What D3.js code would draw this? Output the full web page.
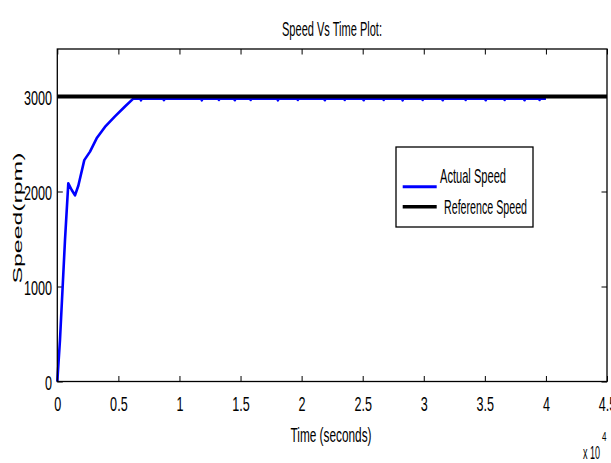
<!DOCTYPE html>
<html>
<head>
<meta charset="utf-8">
<script src="https://cdn.jsdelivr.net/npm/d3@7"></script>
<style>
  body { margin: 0; background: #fff; }
  text { font-family: "Liberation Sans", Arial, sans-serif; fill: #000; }
</style>
</head>
<body>
<div class="chart"></div>
<script>
// actual speed (rpm) vs time (s)
const actualTime = [0, 220, 630, 900, 1180, 1450, 1720, 2210, 2680, 3220, 3900, 4720, 5540, 6220, 6600,
  6790, 6850, 6910, 8670, 8730, 8790, 11770, 11830, 11890, 13170, 13230, 13290,
  14470, 14530, 14590, 15770, 15830, 15890, 18000, 18060, 18120, 19630, 19690, 19750,
  21840, 21900, 21960, 23470, 23530, 23590, 25020, 25080, 25140, 26660, 26720, 26780,
  28210, 28270, 28330, 29850, 29910, 29970, 31490, 31550, 31610, 33370, 33430, 33490,
  35010, 35070, 35130, 36560, 36620, 36680, 38190, 38250, 38310, 39420, 39480, 39540, 40000];
const actualSpeed = [0, 437, 1489, 2086, 2016, 1960, 2060, 2330, 2420, 2560, 2680, 2790, 2895, 2978, 2978,
  2978, 2960, 2978, 2978, 2962, 2978, 2978, 2960, 2978, 2978, 2963, 2978,
  2978, 2961, 2978, 2978, 2963, 2978, 2978, 2960, 2978, 2978, 2963, 2978,
  2978, 2961, 2978, 2978, 2963, 2978, 2978, 2961, 2978, 2978, 2963, 2978,
  2978, 2960, 2978, 2978, 2963, 2978, 2978, 2961, 2978, 2978, 2963, 2978,
  2978, 2961, 2978, 2978, 2963, 2978, 2978, 2961, 2978, 2978, 2963, 2978, 2978];
const refTime = [0, 45000];
const refSpeed = [3000, 3000];

const xTicks = [0, 5000, 10000, 15000, 20000, 25000, 30000, 35000, 40000, 45000];
const yTicks = [0, 1000, 2000, 3000];
const seriesNames = ["Actual Speed", "Reference Speed"];

const plotLeft = 57.3, plotRight = 607, plotTop = 49, plotBottom = 381.5;

const svg = d3.select(".chart")
  .append("svg")
    .attr("width", 611)
    .attr("height", 463);

const x = d3.scaleLinear().domain([0, 45000]).range([plotLeft, plotRight]);
const y = d3.scaleLinear().domain([0, 3500]).range([plotBottom, plotTop]);

// squeeze a text horizontally, the figure was stretched vertically
const condense = (sel, k) => sel.each(function () {
  const w = this.getComputedTextLength();
  d3.select(this).attr("textLength", w * k).attr("lengthAdjust", "spacingAndGlyphs");
});

//axes, ticks inside like matlab
const xAxis = svg.append("g")
  .attr("transform", `translate(0,${plotBottom})`)
  .call(d3.axisBottom(x).tickValues(xTicks).tickSizeInner(-5.5).tickSizeOuter(0)
    .tickFormat(d => d / 10000));
xAxis.selectAll(".tick text")
  .attr("y", 29.5).attr("dy", 0)
  .style("font-size", "21px").style("font-family", "Liberation Sans");
svg.append("g")
  .attr("transform", `translate(0,${plotTop})`)
  .call(d3.axisTop(x).tickValues(xTicks).tickSizeInner(-5.5).tickSizeOuter(0).tickFormat(""));

const yAxis = svg.append("g")
  .attr("transform", `translate(${plotLeft},0)`)
  .call(d3.axisLeft(y).tickValues(yTicks).tickSizeInner(-5.5).tickSizeOuter(0).tickPadding(5.3)
    .tickFormat(d3.format("d")));
yAxis.selectAll(".tick text")
  .attr("dy", "0.36em")
  .style("font-size", "21px").style("font-family", "Liberation Sans");
svg.append("g")
  .attr("transform", `translate(${plotRight},0)`)
  .call(d3.axisRight(y).tickValues(yTicks).tickSizeInner(-5.5).tickSizeOuter(0).tickFormat(""));

svg.selectAll(".domain").remove();
svg.selectAll(".tick line").attr("stroke", "#000");

//lines
const line = d3.line().x(d => x(d[0])).y(d => y(d[1]));
svg.append("path")
  .attr("d", line(d3.zip(actualTime, actualSpeed)))
  .attr("fill", "none")
  .attr("stroke", "#0000ff")
  .attr("stroke-width", 2.6)
  .attr("stroke-linejoin", "round");
svg.append("path")
  .attr("d", line(d3.zip(refTime, refSpeed)))
  .attr("fill", "none")
  .attr("stroke", "#000")
  .attr("stroke-width", 4);

//plot box
svg.append("rect")
  .attr("x", plotLeft).attr("y", plotTop)
  .attr("width", plotRight - plotLeft).attr("height", plotBottom - plotTop)
  .attr("fill", "none").attr("stroke", "#000").attr("stroke-width", 1.3);

//title and labels
svg.append("text")
  .attr("x", 332).attr("y", 36)
  .attr("text-anchor", "middle")
  .style("font-size", "20px")
  .attr("textLength", 100).attr("lengthAdjust", "spacingAndGlyphs")
  .text("Speed Vs Time Plot:");
svg.append("text")
  .attr("x", 331).attr("y", 442)
  .attr("text-anchor", "middle")
  .style("font-size", "20px")
  .attr("textLength", 81).attr("lengthAdjust", "spacingAndGlyphs")
  .text("Time (seconds)");
//exponent of the x axis
svg.append("text")
  .attr("x", 583).attr("y", 459)
  .style("font-size", "18px")
  .attr("textLength", 17).attr("lengthAdjust", "spacingAndGlyphs")
  .text("x 10");
svg.append("text")
  .attr("x", 602).attr("y", 441)
  .style("font-size", "12px")
  .attr("textLength", 4.5).attr("lengthAdjust", "spacingAndGlyphs")
  .text("4");
svg.append("text")
  .attr("transform", "translate(21.5,218) rotate(-90)")
  .attr("text-anchor", "middle")
  .style("font-size", "12px")
  .attr("textLength", 131).attr("lengthAdjust", "spacingAndGlyphs")
  .text("Speed(rpm)");

condense(xAxis.selectAll(".tick text"), 0.6);
condense(yAxis.selectAll(".tick text"), 0.6);

//legend
const legend = svg.append("g");
legend.append("rect")
  .attr("x", 396).attr("y", 147)
  .attr("width", 137).attr("height", 80)
  .attr("fill", "#fff").attr("stroke", "#000").attr("stroke-width", 1.3);
const legendColors = ["#0000ff", "#000"];
const legendY = [186.7, 206.7];
const legendTextX = [440, 444];
const legendTextY = [182.7, 214];
const legendTextW = [66, 83];
seriesNames.forEach((name, i) => {
  legend.append("line")
    .attr("x1", 402.7).attr("x2", 436.7)
    .attr("y1", legendY[i]).attr("y2", legendY[i])
    .attr("stroke", legendColors[i])
    .attr("stroke-width", i === 0 ? 3 : 3.6);
  legend.append("text")
    .attr("x", legendTextX[i]).attr("y", legendTextY[i])
    .style("font-size", "21px")
    .attr("textLength", legendTextW[i]).attr("lengthAdjust", "spacingAndGlyphs")
    .text(name);
});
</script>
</body>
</html>
